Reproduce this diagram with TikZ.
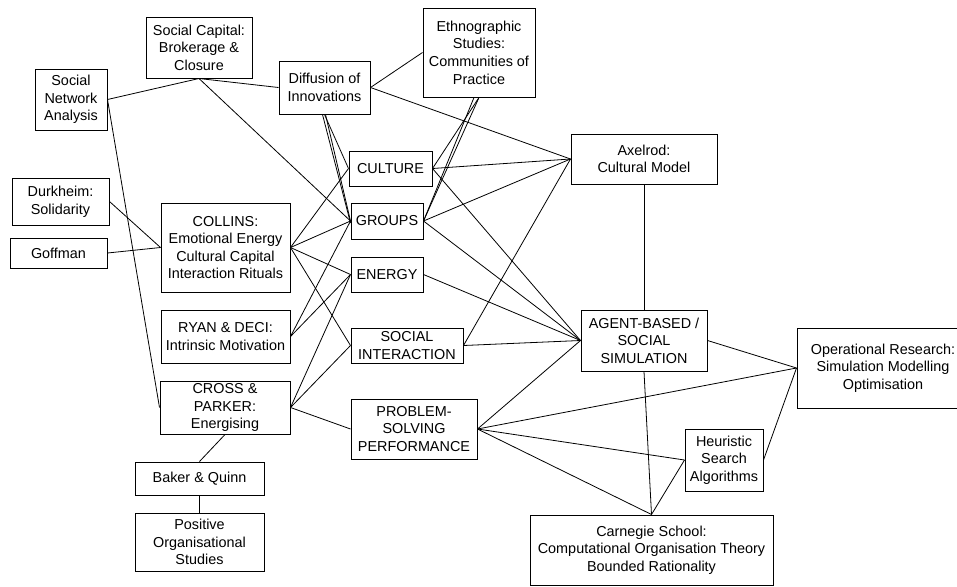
\documentclass[tikz,border=0pt]{standalone}
\usepackage{fontspec}
\setmainfont{Liberation Sans}
\usetikzlibrary{calc}
\begin{document}
\begin{tikzpicture}[x=0.75pt,y=-0.75pt,
  bx/.style n args={2}{draw, line width=0.75pt, minimum width=#1*0.75pt, minimum height=#2*0.75pt,
    inner sep=0pt, align=center, font=\fontsize{10.8pt}{13.2pt}\selectfont},
  ln/.style={line width=0.6pt}]
\useasboundingbox (0,0) rectangle (957,586);
\clip (0,0) rectangle (957,586);
% nodes
\node[bx={72}{61}]   (sna) at (71,99.5)    {Social\\Network\\Analysis};
\node[bx={106}{61}]  (sc)  at (199,47.5)   {Social Capital:\\Brokerage \&\\Closure};
\node[bx={91}{53}]   (di)  at (324.5,87.5) {Diffusion of\\Innovations};
\node[bx={112}{89}]  (eth) at (479,52.5)   {Ethnographic\\Studies:\\Communities of\\Practice};
\node[bx={83}{35}]   (cul) at (390.5,168.5){CULTURE};
\node[bx={146}{50}]  (ax)  at (644,159)    {Axelrod:\\Cultural Model};
\node[bx={97}{47}]   (dur) at (60.5,201.5) {Durkheim:\\Solidarity};
\node[bx={97}{30}]   (gof) at (58.5,253)   {Goffman};
\node[bx={129}{89}]  (col) at (225.5,247.5){COLLINS:\\Emotional Energy\\Cultural Capital\\Interaction Rituals};
\node[bx={72}{36}]   (grp) at (387,221)    {GROUPS};
\node[bx={72}{35}]   (ene) at (387,274.5)  {ENERGY};
\node[bx={129}{53}]  (ryan) at (225.5,336.5){RYAN \& DECI:\\Intrinsic Motivation};
\node[bx={112}{35}]  (soc) at (407,345.5)  {SOCIAL\\INTERACTION};
\node[bx={126}{61}]  (abs) at (644,340.5)  {AGENT-BASED /\\SOCIAL\\SIMULATION};
\node[bx={172}{80}]  (or)  at (883,368)    {Operational Research:\\Simulation Modelling\\Optimisation};
\node[bx={130}{53}]  (cp)  at (225,407.5)  {CROSS \&\\PARKER:\\Energising};
\node[bx={126}{60}]  (ps)  at (414,429)    {PROBLEM-\\SOLVING\\PERFORMANCE};
\node[bx={78}{62}]   (hs)  at (724,460)    {Heuristic\\Search\\Algorithms};
\node[bx={129}{33}]  (bq)  at (199.5,478.5){Baker \& Quinn};
\node[bx={129}{58}]  (pos) at (199.5,542)  {Positive\\Organisational\\Studies};
\node[bx={243}{70}]  (car) at (651.5,550)  {Carnegie School:\\Computational Organisation Theory\\Bounded Rationality};
% connectors
\draw[ln] (sna.east) -- (sc.south);
\draw[ln] (sc.south) -- (di.west);
\draw[ln] (sc.south) -- (grp.west);
\draw[ln] (sna.east) -- (cp.west);
\draw[ln] (di.east) -- (eth.west);
\draw[ln] (di.east) -- (ax.west);
\draw[ln] (di.south) -- (cul.west);
\draw[ln] ($(di.south)+(1,0)$) -- (grp.west);
\draw[ln] ($(di.south)+(-2,0)$) -- ($(grp.west)+(0,2)$);
\draw[ln] (dur.east) -- (col.west);
\draw[ln] (gof.east) -- (col.west);
\draw[ln] (col.east) -- (cul.west);
\draw[ln] (col.east) -- (grp.west);
\draw[ln] (col.east) -- (ene.west);
\draw[ln] (col.east) -- (soc.west);
\draw[ln] (ryan.east) -- (grp.west);
\draw[ln] (ryan.east) -- (ene.west);
\draw[ln] (cp.east) -- (ene.west);
\draw[ln] (cp.east) -- (soc.west);
\draw[ln] (cp.east) -- (ps.west);
\draw[ln] (cp.south) -- (bq.north);
\draw[ln] (bq.south) -- (pos.north);
\draw[ln] (cul.east) -- (ax.west);
\draw[ln] (cul.east) -- (abs.west);
\draw[ln] (cul.east) -- (eth.south);
\draw[ln] (grp.east) -- (ax.west);
\draw[ln] (grp.east) -- (abs.west);
\draw[ln] (grp.east) -- (eth.south);
\draw[ln] (grp.east) -- ($(eth.south)+(-5,0)$);
\draw[ln] (ene.east) -- (abs.west);
\draw[ln] (soc.east) -- (abs.west);
\draw[ln] (soc.east) -- (ax.west);
\draw[ln] (ax.south) -- (abs.north);
\draw[ln] (abs.east) -- (or.west);
\draw[ln] (abs.south) -- (car.north);
\draw[ln] (ps.east) -- (abs.west);
\draw[ln] (ps.east) -- (or.west);
\draw[ln] (ps.east) -- (hs.west);
\draw[ln] (ps.east) -- (car.north);
\draw[ln] (hs.west) -- (car.north);
\draw[ln] (hs.east) -- (or.west);
\end{tikzpicture}
\end{document}
